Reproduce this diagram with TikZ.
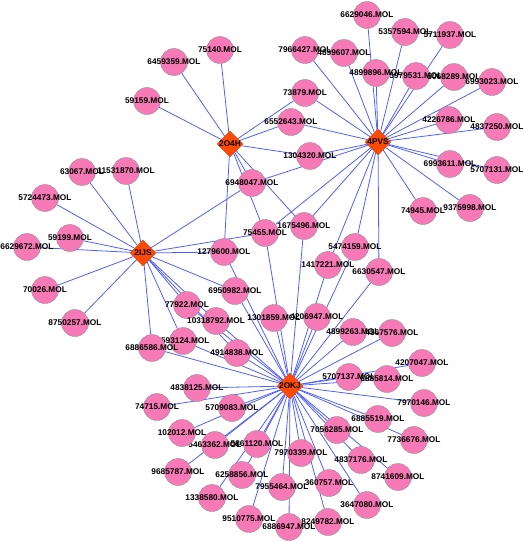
\documentclass[tikz,border=0pt]{standalone}
\usepackage{fontspec}
\setmainfont{Liberation Sans}
\usetikzlibrary{shapes.geometric,backgrounds}

\definecolor{molpink}{RGB}{247,121,182}
\definecolor{molrand}{RGB}{150,140,150}
\definecolor{kantenblau}{RGB}{80,95,255}
\definecolor{ziel}{RGB}{255,75,0}

\tikzset{
  mol/.style={circle, fill=molpink, draw=molrand, line width=0.4pt,
    minimum size=27pt, inner sep=0pt},
  ziel/.style={diamond, fill=ziel, draw=ziel!85!black, line width=0.4pt,
    minimum width=26pt, minimum height=26pt, inner sep=0pt},
  kante/.style={kantenblau, line width=0.8pt},
}

\begin{document}
\begin{tikzpicture}[x=1pt, y=-1pt, font=\fontsize{8.3}{9}\selectfont\bfseries]

  \useasboundingbox (0,0) rectangle (524,542);

  % Molekuele
  \foreach \n/\x/\y in {
      75140/220/50, 6459359/174/62, 59159/147/101, 63067/82/172, 11531870/126/171,
      6629046/367/15, 5357594/405/32, 5711937/450/35, 7966427/305/50, 4899607/344/53,
      4899896/376/73, 5979531/416/76, 5068289/454/77, 6993023/492/82, 73879/305/93,
      6552643/291/122, 4226786/449/120, 4837250/497/127, 1304320/310/156,
      6993611/450/164, 5707131/497/170, 74945/423/211, 9375998/470/208,
      6948047/252/183, 1675496/304/226, 75455/265/233, 5474159/355/247,
      1417221/328/265, 6630547/379/272, 1279600/224/252,
      5724473/45/198, 59199/70/238, 6629672/27/247, 70026/45/290, 8750257/75/323,
      6950982/235/291, 77922/187/305, 10318792/216/321, 8593124/183/341,
      6886586/152/348, 4914838/237/353, 1301859/274/318, 4206947/317/317,
      4899263/353/332, 4567576/392/333, 4207047/422/363, 5707137/349/377,
      6885814/387/379, 7970146/424/403, 6885519/378/419, 7056285/337/430,
      7736676/414/440, 7970339/301/453, 4837176/361/460, 8741609/398/477,
      360757/329/483, 7955464/282/487, 3647080/367/505, 8249782/328/522,
      6886947/289/527, 9510775/249/519, 1338580/212/498, 6258856/242/475,
      5861120/257/444, 9685787/178/472, 5463362/215/445, 102012/182/433,
      5709083/232/408, 74715/157/407, 4838125/197/388}
    \node[mol, label={center:\n.MOL}] (m\n) at (\x,\y) {};

  % Targets
  \node[ziel, label={center:2O4H}] (h2O4H) at (230,144) {};
  \node[ziel, label={center:4PVS}] (h4PVS) at (378,142) {};
  \node[ziel, label={center:2IJS}] (h2IJS) at (143,253) {};
  \node[ziel, label={center:2OKJ}] (h2OKJ) at (290,386) {};

  % Kanten
  \begin{pgfonlayer}{background}
    \foreach \m in {75140, 6459359, 59159, 6948047, 1279600, 75455, 1675496,
        6552643, 1304320, 73879}
      \draw[kante] (h2O4H) -- (m\m);
    \foreach \m in {6629046, 5357594, 5711937, 7966427, 4899607, 4899896,
        5979531, 5068289, 6993023, 73879, 6552643, 4226786, 4837250, 1304320,
        6993611, 5707131, 74945, 9375998, 5474159, 6630547, 1417221, 1675496,
        75455, 6948047}
      \draw[kante] (h4PVS) -- (m\m);
    \foreach \m in {63067, 11531870, 5724473, 59199, 6629672, 70026, 8750257,
        6948047, 75455, 1279600, 6950982, 77922, 10318792, 4914838, 8593124,
        6886586}
      \draw[kante] (h2IJS) -- (m\m);
    \foreach \m in {1279600, 75455, 1675496, 1417221, 5474159, 6630547,
        6950982, 77922, 10318792, 8593124, 6886586, 4914838, 1301859, 4206947,
        4899263, 4567576, 4207047, 5707137, 6885814, 7970146, 6885519, 7736676,
        7056285, 4837176, 8741609, 7970339, 360757, 3647080, 8249782, 6886947,
        7955464, 9510775, 1338580, 6258856, 5861120, 9685787, 5463362, 102012,
        5709083, 74715, 4838125}
      \draw[kante] (h2OKJ) -- (m\m);
  \end{pgfonlayer}

\end{tikzpicture}
\end{document}
